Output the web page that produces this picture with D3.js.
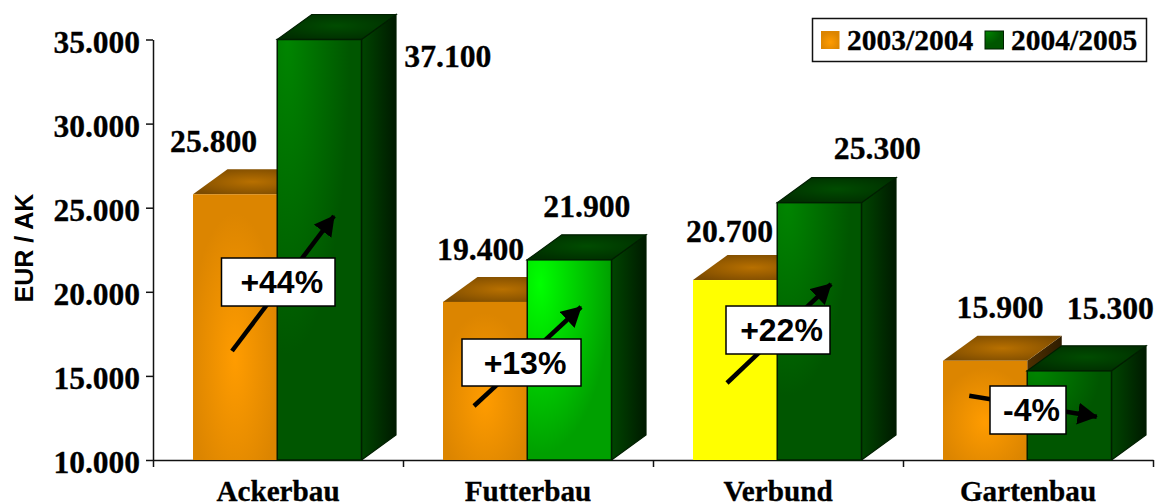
<!DOCTYPE html>
<html>
<head>
<meta charset="utf-8">
<script src="https://d3js.org/d3.v7.min.js"></script>
<style>
  html, body { margin: 0; padding: 0; background: #fff; }
  svg { display: block; }
  .serif { font-family: "Liberation Serif", serif; font-weight: bold; fill: #000; stroke: #000; stroke-width: 0.3px; }
  .sans { font-family: "Liberation Sans", sans-serif; font-weight: bold; fill: #000; }
</style>
</head>
<body>
<div id="chart"></div>
<script>
var categories = ["Ackerbau", "Futterbau", "Verbund", "Gartenbau"];
var seriesNames = ["2003/2004", "2004/2005"];
var values2003 = [25800, 19400, 20700, 15900];
var values2004 = [37100, 21900, 25300, 15300];
var yTicks = [10000, 15000, 20000, 25000, 30000, 35000];

// change labels, arrows and boxes are read in chart units (x: group index, y: EUR/AK)
var changeLabels = ["+44%", "+13%", "+22%", "-4%"];
var arrowX0 = [0.316, 1.284, 2.296, 3.265];
var arrowY0 = [16480, 13210, 14578, 13820];
var arrowX1 = [0.724, 1.712, 2.712, 3.775];
var arrowY1 = [24506, 19096, 20463, 12574];
var boxX0 = [0.274, 1.236, 2.292, 3.348];
var boxX1 = [0.728, 1.712, 2.708, 3.652];
var boxY0 = [22009, 17193, 19155, 14399];
var boxY1 = [19155, 14399, 16302, 11546];

// offsets of the value labels from the top of the bar front (centre x, baseline y)
var labelDx2003 = [-21.5, -4.5, -5.5, 15];
var labelDy2003 = [-42, -42, -37.7, -43];
var labelDx2004 = [128.5, 17.5, 58, 41];
var labelDy2004 = [27, -43, -43.7, -51.6];

var width = 1156, height = 504;
var margin = {top: 39.5, right: 3, bottom: 44, left: 153};
var depthX = 34.5, depthY = 25;

var svg = d3.select("#chart").append("svg")
    .attr("width", width)
    .attr("height", height);

var xBand = d3.scaleBand().domain(categories).range([margin.left, width - margin.right]);
var xPos = d3.scaleLinear().domain([0, 4]).range([margin.left, width - margin.right]);
var xInner = d3.scaleBand().domain(seriesNames).range([40, 208.5]);
var yScale = d3.scaleLinear().domain([10000, 35000]).range([height - margin.bottom, margin.top]).clamp(true);

var deFormat = d3.formatLocale({decimal: ",", thousands: ".", grouping: [3], currency: ["", ""]}).format(",");

// gradients
var defs = svg.append("defs");

function radial(id, cx, cy, r, inner, outer) {
    var g = defs.append("radialGradient").attr("id", id)
        .attr("cx", cx).attr("cy", cy).attr("r", r);
    g.append("stop").attr("offset", "0%").attr("stop-color", inner);
    g.append("stop").attr("offset", "100%").attr("stop-color", outer);
}
function linear(id, left, right) {
    var g = defs.append("linearGradient").attr("id", id);
    g.append("stop").attr("offset", "0%").attr("stop-color", left);
    g.append("stop").attr("offset", "100%").attr("stop-color", right);
}
radial("orangeFront", 0.5, 0.62, 0.55, "#ff9c00", "#dc8500");
radial("orangeTop", 0.5, 0.5, 0.6, "#b87000", "#7c4b00");
linear("orangeSide", "#4f3000", "#2e1c00");
radial("greenFront", 0.12, 0, 0.75, "#008500", "#005600");
radial("brightFront", 0.15, 0.12, 0.85, "#00ff00", "#00a000");
radial("greenTop", 0.5, 0.45, 0.6, "#004c00", "#002e00");
linear("greenSide", "#004500", "#001a00");

defs.append("marker").attr("id", "arrowHead")
    .attr("markerUnits", "userSpaceOnUse")
    .attr("viewBox", "0 0 20 22")
    .attr("markerWidth", 20).attr("markerHeight", 22)
    .attr("refX", 19).attr("refY", 11)
    .attr("orient", "auto")
    .append("path").attr("d", "M0,0L20,11L0,22Z").attr("fill", "#000");

function frontFill(s, i) {
    if (s == 0) return i == 2 ? "#ffff00" : "url(#orangeFront)";
    return i == 1 ? "url(#brightFront)" : "url(#greenFront)";
}

function drawBar(g, s, i, v) {
    var x0 = xBand(categories[i]) + xInner(seriesNames[s]);
    var x1 = x0 + xInner.bandwidth();
    var y0 = yScale(v);
    var y1 = yScale(10000);
    var line = s == 0 ? "none" : "#001f00";
    var side = s == 0 ? "url(#orangeSide)" : "url(#greenSide)";
    var top = s == 0 ? "url(#orangeTop)" : "url(#greenTop)";

    g.append("path")
        .attr("d", d3.line()([[x1, y0], [x1 + depthX, y0 - depthY], [x1 + depthX, y1 - depthY], [x1, y1]]) + "Z")
        .attr("fill", side).attr("stroke", line).attr("stroke-width", 1.2);
    g.append("path")
        .attr("d", d3.line()([[x0, y0], [x0 + depthX, y0 - depthY], [x1 + depthX, y0 - depthY], [x1, y0]]) + "Z")
        .attr("fill", top).attr("stroke", line).attr("stroke-width", 1.2);
    g.append("rect")
        .attr("x", x0).attr("y", y0)
        .attr("width", x1 - x0).attr("height", y1 - y0)
        .attr("fill", frontFill(s, i)).attr("stroke", line).attr("stroke-width", 1.5);
}

// axes first, bars sit on top of the baseline
var yAxis = svg.append("g")
    .attr("transform", "translate(" + margin.left + ",0)")
    .call(d3.axisLeft(yScale).tickValues(yTicks).tickFormat(deFormat).tickSize(7).tickPadding(6).tickSizeOuter(0));
yAxis.selectAll("text").attr("class", "serif").attr("font-size", 31.5).attr("dy", "0.4em");

// ticks at the group edges, the names go in the middle of the group
var xTicks = svg.append("g")
    .attr("transform", "translate(0," + yScale(10000) + ")")
    .call(d3.axisBottom(xPos).tickValues([0, 1, 2, 3, 4]).tickFormat("").tickSize(7).tickSizeOuter(0));

var xNames = svg.append("g")
    .attr("transform", "translate(0," + yScale(10000) + ")")
    .call(d3.axisBottom(xBand).tickSize(0).tickPadding(20));
xNames.select(".domain").remove();
xNames.selectAll("text").attr("class", "serif").attr("font-size", 29.2);

svg.selectAll(".domain, .tick line").attr("stroke", "#111").attr("stroke-width", 1.5);

svg.append("text")
    .attr("class", "sans")
    .attr("transform", "translate(32.5,248) rotate(-90)")
    .attr("text-anchor", "middle")
    .attr("font-size", 25)
    .text("EUR / AK");

// bars
var bars = svg.append("g");
categories.forEach(function(c, i) {
    drawBar(bars, 0, i, values2003[i]);
    drawBar(bars, 1, i, values2004[i]);
});

// value labels
function valueLabel(s, i, v, dx, dy) {
    svg.append("text")
        .attr("class", "serif")
        .attr("x", xBand(categories[i]) + xInner(seriesNames[s]) + xInner.bandwidth() / 2 + dx)
        .attr("y", yScale(v) + dy)
        .attr("text-anchor", "middle")
        .attr("font-size", 31.7)
        .text(deFormat(v));
}
categories.forEach(function(c, i) {
    valueLabel(0, i, values2003[i], labelDx2003[i], labelDy2003[i]);
    valueLabel(1, i, values2004[i], labelDx2004[i], labelDy2004[i]);
});

// arrows and the percent boxes over them
changeLabels.forEach(function(t, i) {
    svg.append("line")
        .attr("x1", xPos(arrowX0[i])).attr("y1", yScale(arrowY0[i]))
        .attr("x2", xPos(arrowX1[i])).attr("y2", yScale(arrowY1[i]))
        .attr("stroke", "#000").attr("stroke-width", 4.5)
        .attr("marker-end", "url(#arrowHead)");
    svg.append("rect")
        .attr("x", xPos(boxX0[i])).attr("y", yScale(boxY0[i]))
        .attr("width", xPos(boxX1[i]) - xPos(boxX0[i]))
        .attr("height", yScale(boxY1[i]) - yScale(boxY0[i]))
        .attr("fill", "#fff").attr("stroke", "#000").attr("stroke-width", 1.5);
    svg.append("text")
        .attr("class", "sans")
        .attr("x", (xPos(boxX0[i]) + xPos(boxX1[i])) / 2 + 3.5)
        .attr("y", (yScale(boxY0[i]) + yScale(boxY1[i])) / 2 + 11)
        .attr("text-anchor", "middle")
        .attr("font-size", 32)
        .text(t);
});

// legend
var legend = svg.append("g");
legend.append("rect")
    .attr("x", 812.5).attr("y", 18.5).attr("width", 334).attr("height", 43)
    .attr("fill", "#fff").attr("stroke", "#111").attr("stroke-width", 1.5);
var legendX = d3.scaleOrdinal().domain(seriesNames).range([821, 985]);
seriesNames.forEach(function(n, s) {
    legend.append("rect")
        .attr("x", legendX(n)).attr("y", 31).attr("width", 18.5).attr("height", 18)
        .attr("fill", s == 0 ? "url(#orangeFront)" : "url(#greenFront)")
        .attr("stroke", s == 0 ? "none" : "#001f00");
    legend.append("text")
        .attr("class", "serif")
        .attr("x", legendX(n) + 26).attr("y", 50)
        .attr("font-size", 29.5)
        .text(n);
});
</script>
</body>
</html>
